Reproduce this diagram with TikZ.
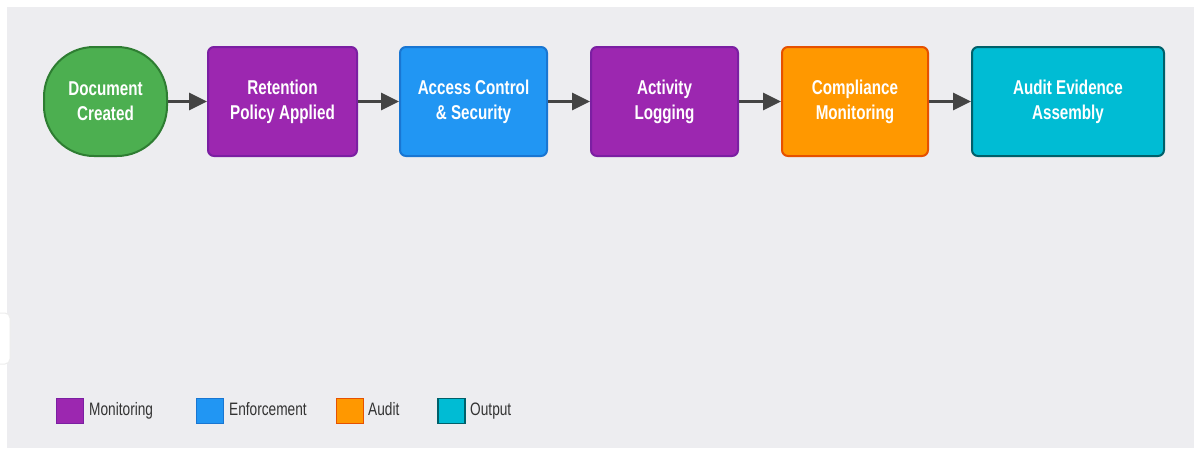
\documentclass[tikz,border=0pt]{standalone}
\usepackage{fontspec}
\setmainfont{Liberation Sans}
\newfontfamily\condfont[FakeStretch=0.76]{Liberation Sans}
\usetikzlibrary{arrows.meta}
\definecolor{bgpanel}{HTML}{EDEDF0}
\definecolor{greenF}{HTML}{4CAF50}\definecolor{greenD}{HTML}{2E7D32}
\definecolor{purpF}{HTML}{9C27B0}\definecolor{purpD}{HTML}{7B1FA2}
\definecolor{blueF}{HTML}{2196F3}\definecolor{blueD}{HTML}{1976D2}
\definecolor{orngF}{HTML}{FF9800}\definecolor{orngD}{HTML}{E65100}
\definecolor{cyanF}{HTML}{00BCD4}\definecolor{cyanD}{HTML}{00606A}
\definecolor{arrowC}{HTML}{444444}
\definecolor{legtext}{HTML}{333333}
\tikzset{
  stepbox/.style={draw, line width=2pt, rounded corners=6pt, minimum height=109pt,
    align=center, text=white, font=\condfont\bfseries\fontsize{20}{25}\selectfont,
    inner sep=0pt},
  startnode/.style={stepbox, rounded corners=50pt},
  flow/.style={draw=arrowC, line width=3pt, -{Triangle[length=18pt,width=17pt]}},
  legbox/.style={draw, line width=1.6pt, minimum width=27pt, minimum height=25pt, inner sep=0pt},
  legtxt/.style={anchor=west, text=legtext, inner sep=0pt, text height=13pt, text depth=4pt,
    font=\condfont\fontsize{18}{20}\selectfont}
}
\begin{document}
\begin{tikzpicture}[x=1pt, y=-1pt]
  % page and panel
  \fill[white] (0,0) rectangle (1194,448);
  \useasboundingbox (0,0) rectangle (1194,448);
  \fill[bgpanel] (7,7) rectangle (1194,448);
  \filldraw[fill=white, draw=black!7, line width=1pt, rounded corners=5pt] (-12,313) rectangle (10,364);

  % process steps
  \node[startnode, fill=greenF, draw=greenD, minimum width=123pt] (doc) at (105.5,101.5) {Document\\Created};
  \node[stepbox, fill=purpF, draw=purpD, minimum width=149pt] (ret) at (282.5,101.5) {Retention\\Policy Applied};
  \node[stepbox, fill=blueF, draw=blueD, minimum width=147pt] (acc) at (473.5,101.5) {Access Control\\\& Security};
  \node[stepbox, fill=purpF, draw=purpD, minimum width=147pt] (act) at (664.5,101.5) {Activity\\Logging};
  \node[stepbox, fill=orngF, draw=orngD, minimum width=146pt] (cmp) at (855,101.5) {Compliance\\Monitoring};
  \node[stepbox, fill=cyanF, draw=cyanD, minimum width=192pt] (aud) at (1068,101.5) {Audit Evidence\\Assembly};

  % connectors
  \draw[flow] (doc) -- (ret);
  \draw[flow] (ret) -- (acc);
  \draw[flow] (acc) -- (act);
  \draw[flow] (act) -- (cmp);
  \draw[flow] (cmp) -- (aud);

  % legend
  \node[legbox, fill=purpF, draw=purpD] (lg1) at (70,411) {};
  \node[legtxt] (lt1) at (89,411) {Monitoring};
  \node[legbox, fill=blueF, draw=blueD] (lg2) at (210,411) {};
  \node[legtxt] (lt2) at (229,411) {Enforcement};
  \node[legbox, fill=orngF, draw=orngD] (lg3) at (350,411) {};
  \node[legtxt] (lt3) at (368,411) {Audit};
  \node[legbox, fill=cyanF, draw=cyanD] (lg4) at (451.5,411) {};
  \node[legtxt] (lt4) at (470,411) {Output};
\end{tikzpicture}
\end{document}
